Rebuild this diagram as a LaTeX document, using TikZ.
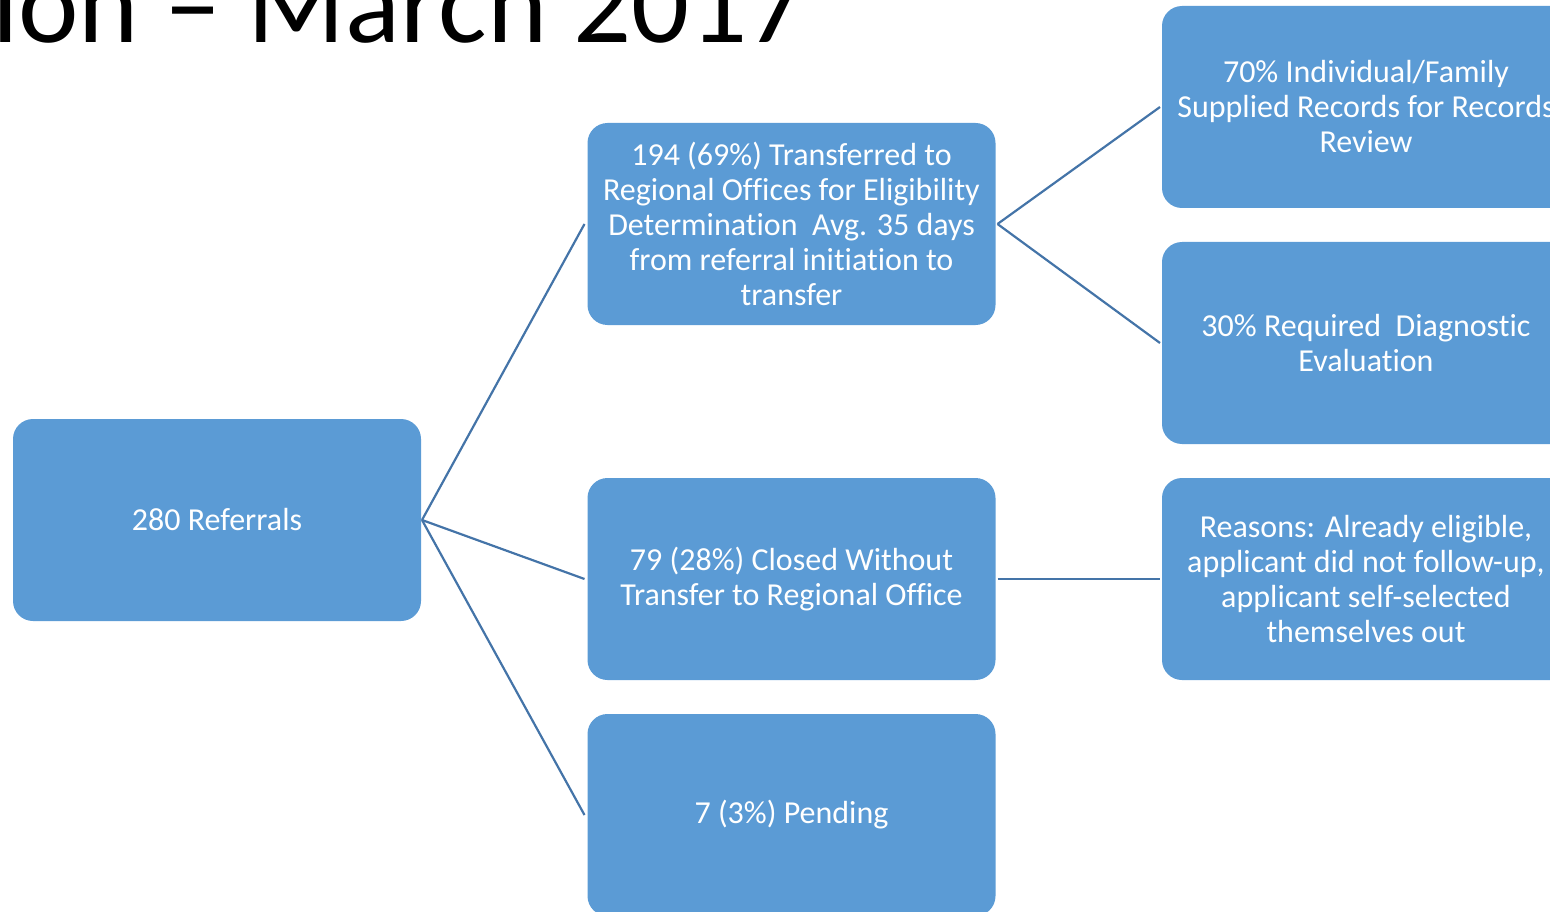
\documentclass[tikz,border=0pt]{standalone}
\usepackage{fontspec}
\setmainfont{Carlito}[Ligatures=NoCommon]
\definecolor{boxblue}{HTML}{5B9BD5}
\definecolor{linkblue}{HTML}{4474A8}
\begin{document}
\begin{tikzpicture}[x=1pt,y=-1pt,
  box/.style={rectangle, rounded corners=20pt, fill=boxblue, text=white,
    minimum width=408pt, minimum height=202pt, inner sep=0pt, outer sep=0pt,
    align=center, font=\fontsize{32}{35}\selectfont},
  link/.style={draw=linkblue, line width=2.2pt}]
\useasboundingbox (0,0) rectangle (1550,912);
\node[anchor=base west, font=\fontsize{114.5}{120}\selectfont, inner sep=0pt] (title) at (-8,43) {ion – March 2017};
\node[box] (ref) at (217,520) {280 Referrals};
\node[box] (tr) at (791.5,224) {194 (69\%) Transferred to\\Regional Offices for Eligibility\\Determination\ \ Avg. 35 days\\from referral initiation to\\transfer};
\node[box] (cl) at (791.5,579) {79 (28\%) Closed Without\\Transfer to Regional Office};
\node[box] (pe) at (791.5,815) {7 (3\%) Pending};
\node[box] (r1) at (1366,107) {70\% Individual/Family\\Supplied Records for Records\\Review};
\node[box] (r2) at (1366,343) {30\% Required\ \ Diagnostic\\Evaluation};
\node[box] (r3) at (1366,579) {Reasons: Already eligible,\\applicant did not follow-up,\\applicant self-selected\\themselves out};
\draw[link] ([xshift=1pt]ref.east) -- ([xshift=-3pt]tr.west);
\draw[link] ([xshift=1pt]ref.east) -- ([xshift=-3pt]cl.west);
\draw[link] ([xshift=1pt]ref.east) -- ([xshift=-3pt]pe.west);
\draw[link] ([xshift=2pt]tr.east) -- ([xshift=-2pt]r1.west);
\draw[link] ([xshift=2pt]tr.east) -- ([xshift=-2pt]r2.west);
\draw[link] ([xshift=2pt]cl.east) -- ([xshift=-2pt]r3.west);
\end{tikzpicture}
\end{document}
